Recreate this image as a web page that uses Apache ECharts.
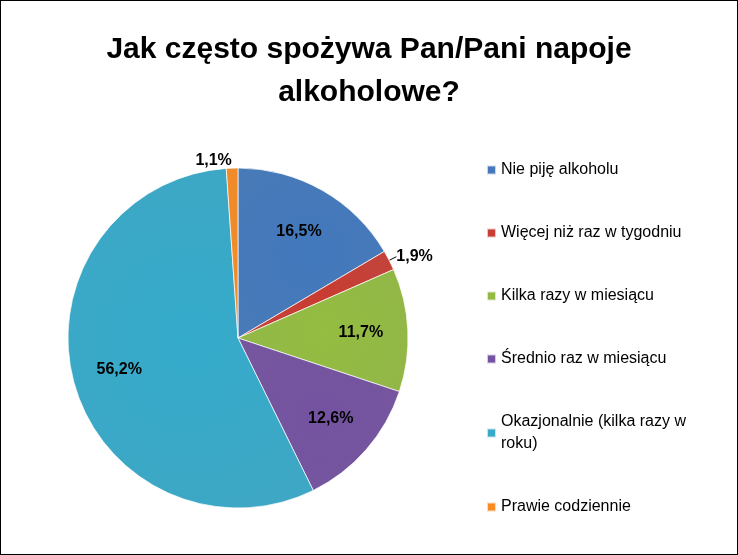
<!DOCTYPE html>
<html>
<head>
<meta charset="utf-8">
<script src="https://cdn.jsdelivr.net/npm/echarts@6/dist/echarts.min.js"></script>
<style>
  * { margin: 0; padding: 0; box-sizing: border-box; }
  body { width: 738px; height: 555px; background: #fff; }
  #chart { width: 738px; height: 555px; border: 1px solid #000; }
</style>
</head>
<body>
<div id="chart"></div>
<script>
var categories = ['Nie piję alkoholu', 'Więcej niż raz w tygodniu', 'Kilka razy w miesiącu',
  'Średnio raz w miesiącu', 'Okazjonalnie (kilka razy w\nroku)', 'Prawie codziennie'];
var values = [16.5, 1.9, 11.7, 12.6, 56.2, 1.1];
var colors = ['#3F73B4', '#C0392F', '#8DB43E', '#6F4F99', '#33A3C2', '#F0851E'];
var outside = [false, true, false, false, false, true];

function grad(c) {
  return new echarts.graphic.RadialGradient(0.5, 0.5, 0.7, [
    { offset: 0, color: echarts.color.lift(c, -0.05) },
    { offset: 1, color: echarts.color.lift(c, 0.05) }
  ]);
}
function fmt(p) { return p.value.toFixed(1).replace('.', ',') + '%'; }
var labelFont = { fontFamily: 'Liberation Sans', fontSize: 16, fontWeight: 'bold', color: '#000' };

var chart = echarts.init(document.getElementById('chart'));
chart.setOption({
  animation: false,
  title: {
    text: 'Jak często spożywa Pan/Pani napoje\nalkoholowe?',
    left: 'center', top: 22,
    textStyle: { fontFamily: 'Liberation Sans', fontSize: 30, fontWeight: 'bold', color: '#000', lineHeight: 43 }
  },
  legend: {
    orient: 'vertical', left: 480, top: 153, itemGap: 41,
    icon: 'rect', itemWidth: 9, itemHeight: 9,
    textStyle: { fontFamily: 'Liberation Sans', fontSize: 16, color: '#000', lineHeight: 22 },
    data: categories
  },
  series: [{
    type: 'pie',
    center: [237, 337], radius: 170,
    startAngle: 90, clockwise: true,
    itemStyle: { borderColor: 'rgba(255,255,255,0.7)', borderWidth: 1 },
    label: Object.assign({ show: false }, labelFont, { formatter: fmt }),
    labelLine: { show: true, length: 6, length2: 0, lineStyle: { color: '#000' } },
    data: values.map(function (v, i) {
      var d = { name: categories[i], value: v, itemStyle: { color: grad(colors[i]) } };
      if (outside[i]) {
        d.label = { show: true, position: 'outside', distanceToLabelLine: 0 };
        d.labelLine = { show: i === 1, length: 8, length2: 0 };
      } else {
        d.labelLine = { show: false };
      }
      return d;
    })
  }, {
    // label-only overlay so inner labels sit at ~70% of the radius
    type: 'pie', silent: true,
    center: [237, 337], radius: [70, 170],
    startAngle: 90, clockwise: true,
    itemStyle: { color: 'rgba(0,0,0,0)' },
    label: Object.assign({ position: 'inner' }, labelFont, { formatter: fmt }),
    data: values.map(function (v, i) {
      return { name: categories[i] + ' ', value: v, label: { show: !outside[i] } };
    })
  }]
});
</script>
</body>
</html>
